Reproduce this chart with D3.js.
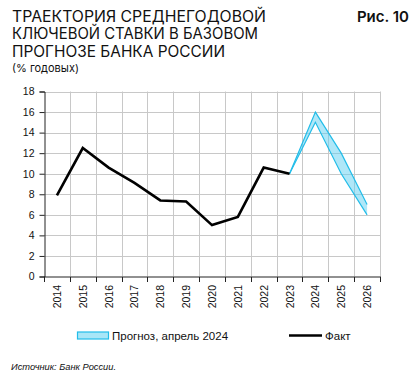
<!DOCTYPE html>
<html><head><meta charset="utf-8">
<script src="https://cdn.jsdelivr.net/npm/d3@7"></script>
<style>
html,body{margin:0;padding:0;background:#fff;}
svg{display:block;}
</style></head>
<body>
<svg id="chart" width="414" height="380"></svg>
<script>
const years = ["2014","2015","2016","2017","2018","2019","2020","2021","2022","2023","2024","2025","2026"];
const factYears = ["2014","2015","2016","2017","2018","2019","2020","2021","2022","2023"];
const factValues = [7.9, 12.5, 10.6, 9.1, 7.4, 7.3, 5.0, 5.8, 10.6, 10.0];
const fcYears = ["2023","2024","2025","2026"];
const fcLow = [10.0, 15.0, 10.0, 6.0];
const fcHigh = [10.0, 16.0, 12.0, 7.0];
const yTicks = [0,2,4,6,8,10,12,14,16,18];
const titleLines = ["ТРАЕКТОРИЯ СРЕДНЕГОДОВОЙ","КЛЮЧЕВОЙ СТАВКИ В БАЗОВОМ","ПРОГНОЗЕ БАНКА РОССИИ"];

const svg = d3.select("#chart");
const L = 44, R = 380, T = 91.5, B = 276.5;
const x = d3.scaleBand().domain(years).range([L, R]);
const y = d3.scaleLinear().domain([0, 18]).range([B, T]);
const cx = d => x(d) + x.bandwidth() / 2;

// Title
const tf = "'Inter','Noto Sans',sans-serif";
svg.append("g").selectAll("text").data(titleLines).join("text")
  .attr("x", 12).attr("y", (d, i) => 22 + i * 17.3)
  .attr("font-family", tf).attr("font-size", 15.5).attr("fill", "#111")
  .attr("textLength", (d,i)=>[254,246,213][i]).attr("lengthAdjust","spacingAndGlyphs")
  .text(d => d);
svg.append("text").attr("x", 12).attr("y", 71.5).attr("font-family", tf)
  .attr("font-size", 11).attr("fill", "#111").text("(% годовых)");
svg.append("text").attr("x", 409).attr("y", 22).attr("text-anchor", "end")
  .attr("font-family", tf).attr("font-size", 15).attr("font-weight", 600).attr("fill", "#111").text("Рис. 10");

// Grid
const grid = svg.append("g").attr("stroke", "#c8c8c8").attr("stroke-width", 1);
grid.selectAll("line.h").data(yTicks.filter(d => d > 0)).join("line")
  .attr("x1", L).attr("x2", R).attr("y1", d => Math.round(y(d)) + 0.5).attr("y2", d => Math.round(y(d)) + 0.5);
const bounds = years.map(d => x(d)).concat([R]).slice(1);
grid.selectAll("line.v").data(bounds).join("line")
  .attr("x1", d => Math.round(d) + 0.5).attr("x2", d => Math.round(d) + 0.5).attr("y1", T).attr("y2", B);

// Axes
const af = "'Liberation Sans',Arial,sans-serif";
const yAxis = svg.append("g").attr("transform", `translate(${L + 0.5},0)`)
  .call(d3.axisLeft(y).tickValues(yTicks).tickSize(5).tickPadding(5));
yAxis.select(".domain").attr("stroke", "#222");
yAxis.selectAll(".tick line").attr("stroke", "#222");
yAxis.selectAll("text").attr("font-family", af).attr("font-size", 10.5).attr("fill", "#111");

const xg = svg.append("g").attr("transform", `translate(0,${B + 0.5})`);
xg.append("line").attr("x1", L).attr("x2", R + 1).attr("y1", 0).attr("y2", 0).attr("stroke", "#222");
xg.selectAll("line.t").data([L].concat(bounds)).join("line")
  .attr("x1", d => Math.round(d) + 0.5).attr("x2", d => Math.round(d) + 0.5)
  .attr("y1", 0).attr("y2", 5).attr("stroke", "#222");
xg.selectAll("text").data(years).join("text")
  .attr("transform", d => `translate(${cx(d) + 4},8) rotate(-90)`)
  .attr("text-anchor", "end").attr("font-family", af).attr("font-size", 10.5).attr("fill", "#111")
  .text(d => d);

// Forecast band
const fc = fcYears.map((d, i) => ({yr: d, lo: fcLow[i], hi: fcHigh[i]}));
svg.append("path").datum(fc)
  .attr("d", d3.area().x(d => cx(d.yr)).y0(d => y(d.lo)).y1(d => y(d.hi)))
  .attr("fill", "#5fd0f2").attr("fill-opacity", 0.5);
svg.append("path").datum(fc)
  .attr("d", d3.line().x(d => cx(d.yr)).y(d => y(d.hi)))
  .attr("fill", "none").attr("stroke", "#22bde9").attr("stroke-width", 1.2);
svg.append("path").datum(fc)
  .attr("d", d3.line().x(d => cx(d.yr)).y(d => y(d.lo)))
  .attr("fill", "none").attr("stroke", "#22bde9").attr("stroke-width", 1.2);

// Fact line
const fact = factYears.map((d, i) => ({yr: d, v: factValues[i]}));
svg.append("path").datum(fact)
  .attr("d", d3.line().x(d => cx(d.yr)).y(d => y(d.v)))
  .attr("fill", "none").attr("stroke", "#000").attr("stroke-width", 2.6).attr("stroke-linejoin", "miter");

// Legend
const lg = svg.append("g");
lg.append("rect").attr("x", 77.5).attr("y", 332).attr("width", 31).attr("height", 7)
  .attr("fill", "#a8e6f7").attr("stroke", "#22bde9").attr("stroke-width", 1.2);
lg.append("text").attr("x", 112).attr("y", 340).attr("font-family", af).attr("font-size", 11.5).attr("fill", "#111")
  .text("Прогноз, апрель 2024");
lg.append("line").attr("x1", 289).attr("x2", 322).attr("y1", 335.5).attr("y2", 335.5)
  .attr("stroke", "#000").attr("stroke-width", 2.6);
lg.append("text").attr("x", 325).attr("y", 340).attr("font-family", af).attr("font-size", 11.5).attr("fill", "#111")
  .text("Факт");

// Source
svg.append("text").attr("x", 11).attr("y", 370).attr("font-family", af).attr("font-style", "italic")
  .attr("font-size", 9.5).attr("fill", "#111").attr("textLength", 105).attr("lengthAdjust", "spacingAndGlyphs")
  .text("Источник: Банк России.");
</script>
</body></html>
